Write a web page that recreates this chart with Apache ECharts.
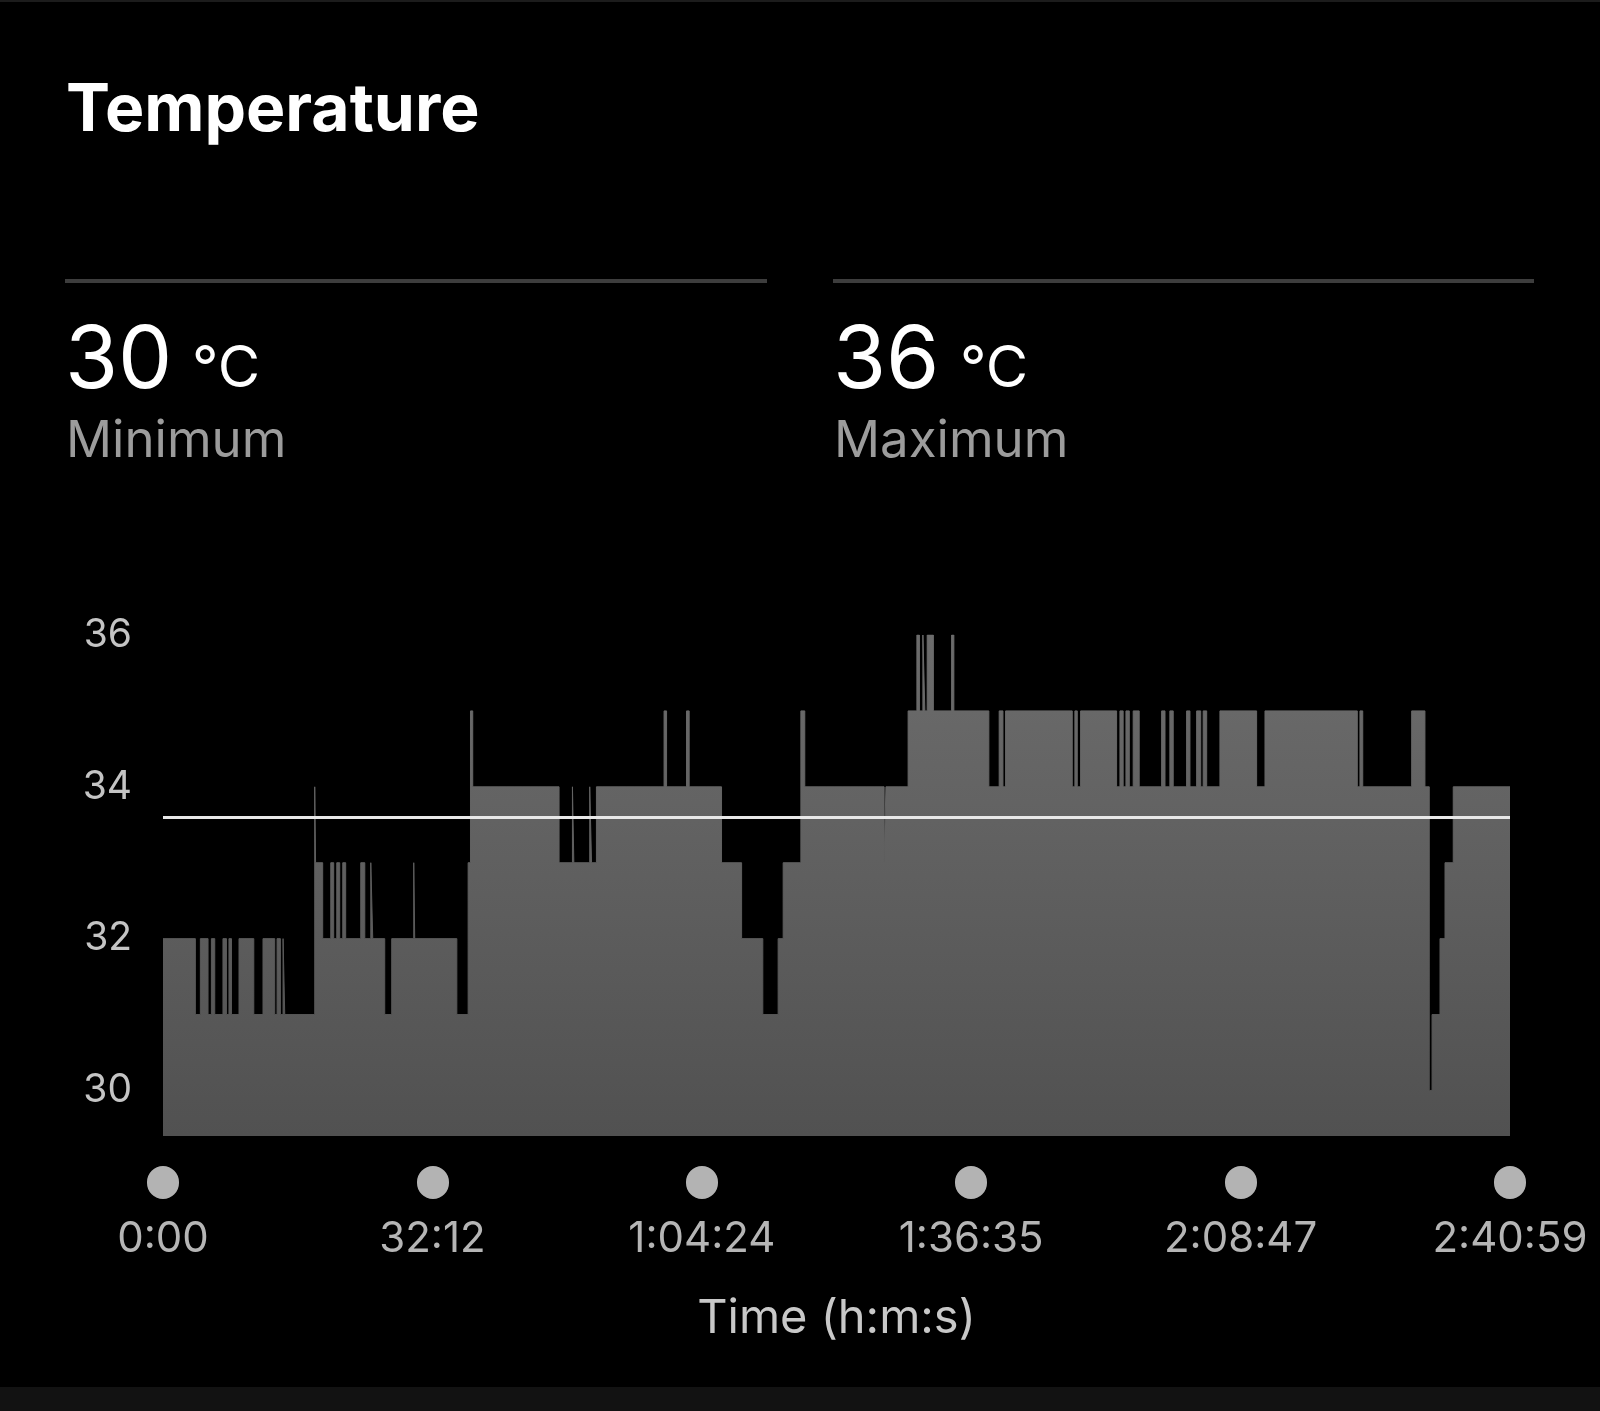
<!DOCTYPE html>
<html>
<head>
<meta charset="utf-8">
<title>Temperature</title>
<script src="https://cdn.jsdelivr.net/npm/echarts@6/dist/echarts.min.js"></script>
<style>
  html, body { margin: 0; padding: 0; background: #000; }
  #chart { width: 1600px; height: 1411px; }
</style>
</head>
<body>
<div id="chart"></div>
<script>
// elapsed time (seconds) at which the reading changes, and the new reading (°C)
var times = [
  0, 232, 268, 323, 347, 371, 430, 455, 473, 491,
  545, 651, 717, 801, 818, 842, 861, 873, 1088, 1094,
  1145, 1203, 1224, 1246, 1267, 1289, 1310, 1418, 1447, 1490,
  1504, 1590, 1640, 1798, 1805, 2107, 2188, 2205, 2221, 2840,
  2936, 2946, 3060, 3073, 3108, 3593, 3611, 3754, 3773, 4005,
  4149, 4301, 4411, 4447, 4574, 4602, 5171, 5184, 5343, 5406,
  5424, 5449, 5463, 5480, 5524, 5655, 5671, 5922, 5996, 6023,
  6042, 6520, 6539, 6556, 6580, 6838, 6862, 6885, 6905, 6929,
  6957, 7000, 7161, 7185, 7220, 7244, 7340, 7364, 7412, 7441,
  7459, 7484, 7579, 7842, 7902, 8564, 8583, 8603, 8954, 9049,
  9080, 9100, 9157, 9193, 9252, 9659
];
var temps = [
  32, 31, 32, 31, 32, 31, 32, 31, 32, 31,
  32, 31, 32, 31, 32, 31, 32, 31, 34, 33,
  32, 33, 32, 33, 32, 33, 32, 33, 32, 33,
  32, 31, 32, 33, 32, 31, 33, 35, 34, 33,
  34, 33, 34, 33, 34, 35, 34, 35, 34, 33,
  32, 31, 32, 33, 35, 34, 33, 34, 35, 36,
  35, 36, 35, 36, 35, 36, 35, 34, 35, 34,
  35, 34, 35, 34, 35, 34, 35, 34, 35, 34,
  35, 34, 35, 34, 35, 34, 35, 34, 35, 34,
  35, 34, 35, 34, 35, 34, 35, 34, 35, 34,
  30, 31, 32, 33, 34, 34
];
var timeTicks = [0, 1932, 3864, 5795, 7727, 9659];
var tempTicks = [30, 32, 34, 36];
var averageTemp = 33.6;

var FONT = 'Inter, "Noto Sans", sans-serif';

function pad(n) {
  return n < 10 ? '0' + n : '' + n;
}

// 0:00 / 32:12 / 1:04:24
function formatClock(sec) {
  var s = Math.round(sec);
  var h = Math.floor(s / 3600);
  var m = Math.floor((s % 3600) / 60);
  var r = s % 60;
  if (h > 0) {
    return h + ':' + pad(m) + ':' + pad(r);
  }
  return m + ':' + pad(r);
}

var points = times.map(function (t, i) {
  return [t, temps[i]];
});
var minTemp = Math.min.apply(null, temps);
var maxTemp = Math.max.apply(null, temps);

var areaColor = new echarts.graphic.LinearGradient(0, 0, 0, 1, [
  { offset: 0, color: '#6c6c6c' },
  { offset: 1, color: '#515151' }
]);

function statBlock(x, value, label) {
  return [
    {
      type: 'text', x: x - 4, y: 362,
      style: { text: '' + value, fontSize: 86, fontFamily: FONT, fill: '#ffffff', verticalAlign: 'middle' }
    },
    {
      type: 'text', x: x + 123, y: 370,
      style: { text: '°C', fontSize: 58, fontFamily: FONT, fill: '#ffffff', verticalAlign: 'middle' }
    },
    {
      type: 'text', x: x - 3, y: 442,
      style: { text: label, fontSize: 51, fontFamily: FONT, fill: '#9c9c9c', verticalAlign: 'middle' }
    }
  ];
}

var chart = echarts.init(document.getElementById('chart'), null, { renderer: 'canvas' });

var option = {
  backgroundColor: '#000000',
  animation: false,
  textStyle: { fontFamily: FONT },
  graphic: [
    { type: 'rect', shape: { x: 0, y: 0, width: 1600, height: 2 }, style: { fill: '#1c1c1c' } },
    { type: 'rect', shape: { x: 0, y: 1387, width: 1600, height: 24 }, style: { fill: '#121212' } },
    {
      type: 'text', x: 66, y: 111,
      style: { text: 'Temperature', fontSize: 66, fontWeight: 'bold', fontFamily: FONT, fill: '#ffffff', verticalAlign: 'middle' }
    },
    { type: 'rect', shape: { x: 65, y: 279, width: 702, height: 4 }, style: { fill: '#3d3d3d' } },
    { type: 'rect', shape: { x: 833, y: 279, width: 701, height: 4 }, style: { fill: '#3d3d3d' } }
  ].concat(statBlock(69, minTemp, 'Minimum'), statBlock(837, maxTemp, 'Maximum')),
  grid: {
    left: 163,
    right: 90,
    top: 635,
    bottom: 275
  },
  xAxis: {
    type: 'value',
    min: 0,
    max: 9659,
    offset: 46,
    axisLine: { show: false },
    splitLine: { show: false },
    axisTick: {
      show: true,
      customValues: timeTicks,
      length: 1,
      lineStyle: { width: 32, cap: 'round', color: '#b3b3b3' }
    },
    axisLabel: {
      customValues: timeTicks,
      formatter: formatClock,
      margin: 36,
      fontSize: 42,
      fontFamily: FONT,
      color: '#b5b5b5'
    },
    name: 'Time (h:m:s)',
    nameLocation: 'middle',
    nameGap: 113,
    nameTextStyle: { fontSize: 47, fontFamily: FONT, color: '#c8c8c8' }
  },
  yAxis: {
    type: 'value',
    min: 29.4,
    max: 36,
    axisLine: { show: false },
    axisTick: { show: false },
    splitLine: { show: false },
    axisLabel: {
      customValues: tempTicks,
      margin: 31,
      fontSize: 39,
      fontFamily: FONT,
      color: '#c4c4c4'
    }
  },
  series: [
    {
      type: 'line',
      step: 'end',
      data: points,
      showSymbol: false,
      lineStyle: { width: 1, color: areaColor },
      areaStyle: { origin: 'start', color: areaColor, opacity: 1 },
      markLine: {
        silent: true,
        symbol: 'none',
        label: { show: false },
        lineStyle: { color: '#e8e8e8', width: 3, type: 'solid' },
        data: [{ yAxis: averageTemp }]
      }
    }
  ]
};

chart.setOption(option);
</script>
</body>
</html>
